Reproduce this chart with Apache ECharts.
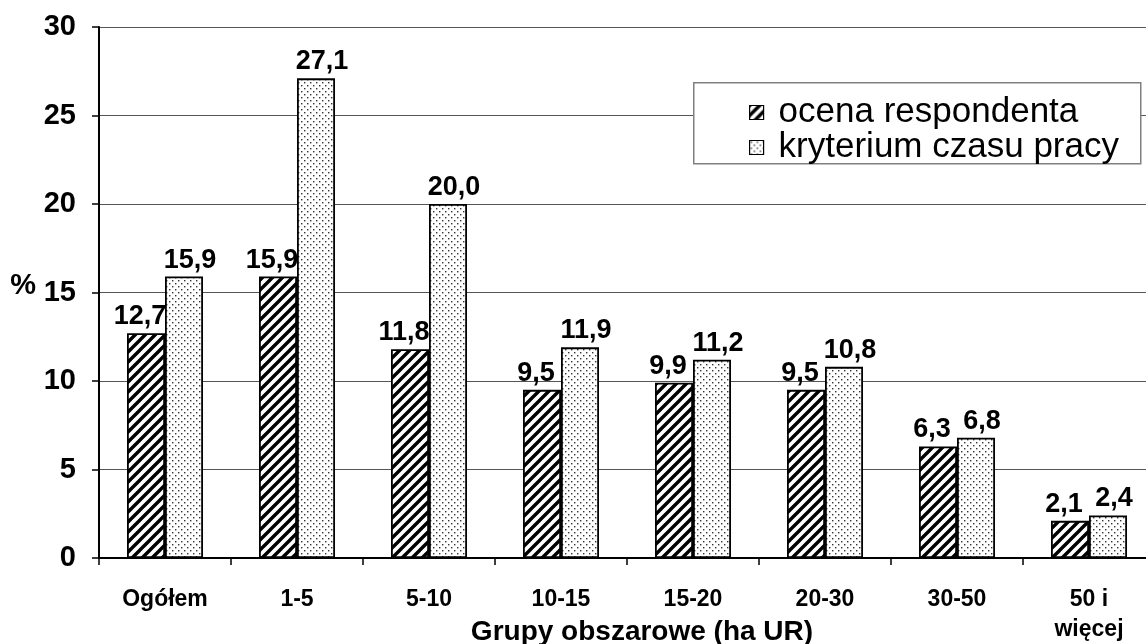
<!DOCTYPE html>
<html>
<head>
<meta charset="utf-8">
<script src="https://cdn.jsdelivr.net/npm/echarts@6/dist/echarts.min.js"></script>
<style>
html,body{margin:0;padding:0;background:#fff;}
#chart{width:1146px;height:644px;}
</style>
</head>
<body>
<div id="chart"></div>
<script>
const categories = ['Ogółem', '1-5', '5-10', '10-15', '15-20', '20-30', '30-50', '50 i\nwięcej'];
const ocenaRespondenta = [12.7, 15.9, 11.8, 9.5, 9.9, 9.5, 6.3, 2.1];
const kryteriumCzasuPracy = [15.9, 27.1, 20.0, 11.9, 11.2, 10.8, 6.8, 2.4];
const yTicks = { min: 0, max: 30, interval: 5 };
const seriesNames = ['ocena respondenta', 'kryterium czasu pracy'];

function hatchPattern() {
  const s = 10;
  const c = document.createElement('canvas');
  c.width = s; c.height = s;
  const g = c.getContext('2d');
  g.fillStyle = '#fff';
  g.fillRect(0, 0, s, s);
  g.strokeStyle = '#000';
  g.lineWidth = 3.4;
  g.beginPath();
  g.moveTo(-s, 2 * s); g.lineTo(2 * s, -s);
  g.moveTo(-2 * s, 2 * s); g.lineTo(s, -s);
  g.moveTo(0, 2 * s); g.lineTo(3 * s, -s);
  g.stroke();
  return c;
}
function dotPattern() {
  const s = 6;
  const c = document.createElement('canvas');
  c.width = s; c.height = s;
  const g = c.getContext('2d');
  g.fillStyle = '#fff';
  g.fillRect(0, 0, s, s);
  g.fillStyle = '#333';
  g.fillRect(1, 1, 1.4, 1.4);
  g.fillRect(4, 4, 1.4, 1.4);
  return c;
}

const fmt = p => p.value.toFixed(1).replace('.', ',');
const FONT = '"Liberation Sans", Arial, sans-serif';

const chart = echarts.init(document.getElementById('chart'));
chart.setOption({
  animation: false,
  backgroundColor: '#fff',
  textStyle: { fontFamily: FONT },
  grid: { left: 99, top: 27, right: -9, bottom: 86, containLabel: false, outerBoundsMode: 'none' },
  graphic: [{
    type: 'rect', left: 693, top: 82, z: 50,
    shape: { width: 447, height: 81 },
    style: { fill: '#fff', stroke: '#808080', lineWidth: 1.5 }
  }],
  legend: {
    z: 60,
    orient: 'vertical',
    left: 744, top: 90,
    itemWidth: 14, itemHeight: 14, itemGap: 0,
    icon: 'rect',
    itemStyle: { borderWidth: 1.2 },
    textStyle: { fontSize: 35, fontFamily: FONT, color: '#000', lineHeight: 33, padding: [0, 0, 0, 10] },
    data: seriesNames
  },
  xAxis: {
    type: 'category',
    data: categories,
    name: 'Grupy obszarowe (ha UR)',
    nameLocation: 'middle',
    nameGap: 60,
    nameMoveOverlap: false,
    nameTextStyle: { fontSize: 28, fontWeight: 'bold', color: '#000', padding: [0, 0, 0, 30] },
    axisLine: { lineStyle: { color: '#000', width: 2 } },
    axisTick: { show: true, length: 7, lineStyle: { color: '#000', width: 1.5 } },
    axisLabel: { margin: 27, fontSize: 23, fontWeight: 'bold', color: '#000', lineHeight: 30, interval: 0 }
  },
  yAxis: {
    type: 'value',
    min: yTicks.min, max: yTicks.max, interval: yTicks.interval,
    name: '%',
    nameLocation: 'middle',
    nameRotate: 0,
    nameGap: 63,
    nameMoveOverlap: false,
    nameTextStyle: { fontSize: 29, fontWeight: 'bold', color: '#000', verticalAlign: 'bottom', lineHeight: 14 },
    axisLine: { show: true, lineStyle: { color: '#000', width: 2 } },
    axisTick: { show: true, length: 7, lineStyle: { color: '#000', width: 1.5 } },
    axisLabel: { margin: 23, fontSize: 29, fontWeight: 'bold', color: '#000' },
    splitLine: { show: true, lineStyle: { color: '#555', width: 1 } }
  },
  series: [
    {
      name: seriesNames[0],
      type: 'bar',
      data: ocenaRespondenta,
      barWidth: 38,
      barGap: '0%',
      itemStyle: { color: { image: hatchPattern(), repeat: 'repeat' }, borderColor: '#000', borderWidth: 1.8 },
      label: { show: true, position: 'top', distance: 3, offset: [-6, 0], formatter: fmt,
               fontSize: 27, fontWeight: 'bold', color: '#000', fontFamily: FONT }
    },
    {
      name: seriesNames[1],
      type: 'bar',
      data: kryteriumCzasuPracy,
      barWidth: 38,
      barGap: '0%',
      itemStyle: { color: { image: dotPattern(), repeat: 'repeat' }, borderColor: '#000', borderWidth: 1.8 },
      label: { show: true, position: 'top', distance: 3, offset: [6, 0], formatter: fmt,
               fontSize: 27, fontWeight: 'bold', color: '#000', fontFamily: FONT }
    }
  ]
});
</script>
</body>
</html>
